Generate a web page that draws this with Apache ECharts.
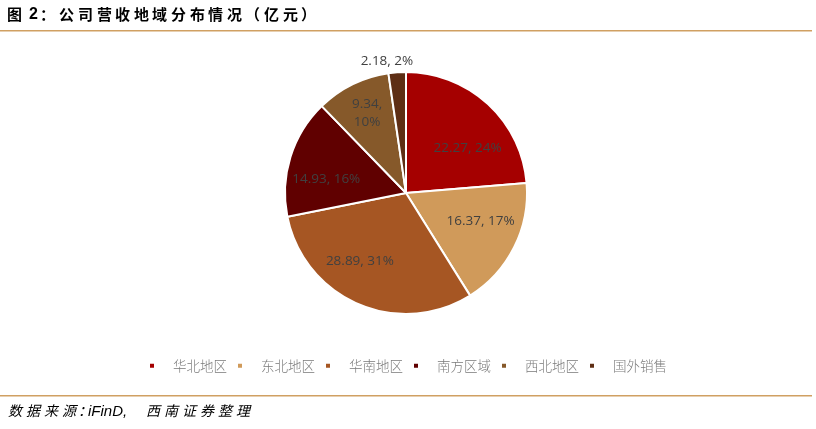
<!DOCTYPE html>
<html><head><meta charset="utf-8">
<script src="https://cdn.jsdelivr.net/npm/echarts@6/dist/echarts.min.js"></script>
<style>html,body{margin:0;padding:0;background:#fff;}#c{width:816px;height:429px;}</style>
</head><body><div id="c"></div>
<script>
var categories = ['华北地区','东北地区','华南地区','南方区域','西北地区','国外销售'];
var values = [22.27, 16.37, 28.89, 14.93, 9.34, 2.18];
var colors = ['#A50000','#D09A5A','#A65623','#600000','#86592A','#5E2E14'];
var titleParts = ['图','2','：','公','司','营','收','地','域','分','布','情','况','（','亿','元','）'];
var sourceParts = ['数','据','来','源','：','iFinD,','西','南','证','券','整','理'];

var titleX = [7,29,40,59,78,97,115,134,152,171,190,208,227,245,264,283,301];
var sourceX = [8,26,44,62,78,88,146,164,182,200,218,236];
var labelOffsets = [[5,17],[0,-9],[-13,-9],[0,11],[-2,-5],[-13,-49]];

var chart = echarts.init(document.getElementById('c'), null, {renderer:'canvas'});
var pieData = categories.map(function(n,i){
  return {name:n, value:values[i], itemStyle:{color:colors[i]}};
});
var labelData = categories.map(function(n,i){
  var d = {name:n, value:values[i], label:{offset:labelOffsets[i]}};
  if (i === 4) { d.label.formatter = '{c},\n{d}%'; d.label.lineHeight = 18; }
  return d;
});
var graphics = [
  {type:'rect', shape:{x:0,y:30,width:812,height:1.5}, style:{fill:'#D0A062'}, silent:true},
  {type:'rect', shape:{x:0,y:395,width:812,height:1.5}, style:{fill:'#D0A062'}, silent:true}
];
titleParts.forEach(function(t,i){
  graphics.push({type:'text', x:titleX[i], y:7, style:{text:t, fill:'#000',
    font: (i===1 ? 'bold 16px "Liberation Sans"' : 'bold 15px "Noto Sans CJK SC"')}});
});
sourceParts.forEach(function(t,i){
  graphics.push({type:'text', x:sourceX[i], y:404, style:{text:t, fill:'#000',
    font: (i===5 ? 'italic 15px "Liberation Sans"' : 'italic 14px "Noto Sans CJK SC"')}});
});
chart.setOption({
  animation:false,
  graphic:graphics,
  legend:{
    top:354, left:143, itemWidth:6, itemHeight:6, itemGap:9, icon:'rect',
    textStyle:{fontSize:13.5, color:'#7a7a7a', fontFamily:'Noto Sans CJK SC', fontWeight:300, padding:[0,0,0,13]},
    data:categories
  },
  series:[{
    type:'pie', center:[406,193], radius:[0,121], startAngle:90, clockwise:true,
    itemStyle:{borderColor:'#fff', borderWidth:2},
    label:{show:false}, labelLine:{show:false},
    data:pieData
  },{
    type:'pie', center:[406,193], radius:[40,121], startAngle:90, clockwise:true, silent:true,
    percentPrecision:0,
    itemStyle:{color:'rgba(0,0,0,0)', borderWidth:0},
    label:{show:true, position:'inside', formatter:'{c}, {d}%', color:'#404040', fontSize:13.5, fontFamily:'Open Sans', lineHeight:20},
    labelLine:{show:false},
    data:labelData
  }]
});
</script></body></html>
